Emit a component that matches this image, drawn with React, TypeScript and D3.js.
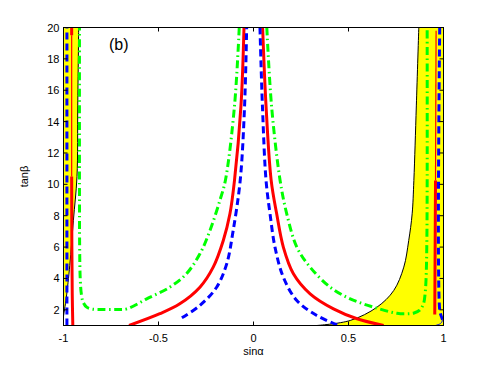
import React, { useEffect, useRef } from 'react';
import * as d3 from 'd3';

// points are [sinα, tanβ]
const blackLeft = [[-1.0, 1.6], [-0.994, 2.06], [-0.985, 2.8], [-0.967, 4.83], [-0.948, 7.7], [-0.929, 10.5], [-0.925, 15], [-0.92, 20]];
const blackRight = [[0.333, 1.0], [0.509, 1.32], [0.65, 2.17], [0.738, 3.23], [0.791, 4.72], [0.817, 6.42], [0.835, 8.12], [0.844, 10.25], [0.857, 15], [0.87, 20]];

const greenLeft = [[-0.075, 20], [-0.1, 15], [-0.148, 10.25], [-0.177, 8.97], [-0.229, 7.06], [-0.282, 5.57], [-0.353, 4.3], [-0.441, 3.44], [-0.562, 2.7], [-0.667, 2.06], [-0.72, 2.02], [-0.8, 2.02], [-0.851, 2.05], [-0.878, 2.17], [-0.897, 2.5], [-0.906, 3.0], [-0.912, 4.0], [-0.915, 6], [-0.916, 10], [-0.916, 20]];
const greenRight = [[0.07, 20], [0.095, 15], [0.14, 10.25], [0.175, 8.12], [0.228, 6.0], [0.298, 4.72], [0.404, 3.44], [0.509, 2.7], [0.632, 2.17], [0.755, 1.78], [0.808, 1.75], [0.845, 1.8], [0.875, 1.98], [0.895, 2.4], [0.903, 3.0], [0.908, 3.9], [0.912, 6], [0.914, 10], [0.914, 20]];

const redCenterLeft = [[-0.655, 1.0], [-0.493, 1.75], [-0.388, 2.38], [-0.282, 3.44], [-0.212, 4.72], [-0.159, 6.42], [-0.124, 8.12], [-0.1, 10.25], [-0.066, 15], [-0.05, 20]];
const redCenterRight = [[0.048, 20], [0.066, 15], [0.093, 10.25], [0.122, 8.12], [0.157, 6.0], [0.21, 4.3], [0.298, 3.02], [0.421, 2.06], [0.545, 1.43], [0.685, 1.0]];
const redSideLeftThick = [[-0.951, 1.0], [-0.954, 3], [-0.956, 6], [-0.957, 10.5]];
const redSideLeftThin = [[-0.957, 10.5], [-0.957, 19.5]];
const redSideLeftStub = [[-0.957, 19.5], [-0.957, 20]];
const redSideRightThick = [[0.954, 1.7], [0.956, 6], [0.958, 10.25]];
const redSideRightThin = [[0.958, 10.25], [0.961, 19.8]];

const blueCenterLeft = [[-0.377, 1.49], [-0.282, 2.28], [-0.194, 3.44], [-0.141, 4.93], [-0.107, 7.06], [-0.07, 10.25], [-0.047, 15], [-0.036, 20]];
const blueCenterRight = [[0.034, 20], [0.047, 15], [0.066, 10.25], [0.087, 8.12], [0.113, 6.0], [0.157, 4.08], [0.228, 2.59], [0.333, 1.64], [0.448, 1.0]];
const blueSideLeft = [[-0.982, 1.0], [-0.982, 20]];
const blueSideRight = [[0.98, 20], [0.98, 2.0], [0.988, 1.6], [0.995, 1.38]];
const blueCornerRight = [[0.995, 1.38], [0.99, 1.2], [0.978, 1.08], [0.957, 1.0]];

const xTicks = [-1, -0.5, 0, 0.5, 1];
const xTickLabels = ['-1', '-0.5', '0', '0.5', '1'];
const yTicks = [2, 4, 6, 8, 10, 12, 14, 16, 18, 20];

const FONT = 'Liberation Sans, Arial, Helvetica, sans-serif';

function App() {
  return (
    <div>
      <ConstraintPlot />
    </div>
  );
}

function ConstraintPlot() {
  const ref = useRef(null);

  useEffect(() => {
    if (!ref.current) return;
    const width = 489;
    const height = 368;
    const left = 63.5, right = 443.5, top = 27.5, bottom = 325.5;

    d3.select(ref.current).selectAll('*').remove();
    const svg = d3.select(ref.current)
      .attr('width', width)
      .attr('height', height);

    const x = d3.scaleLinear().domain([-1, 1]).range([left, right]);
    const y = d3.scaleLinear().domain([1, 20]).range([bottom, top]);

    svg.append('rect').attr('width', width).attr('height', height).attr('fill', 'white');

    svg.append('clipPath').attr('id', 'plotclip')
      .append('rect')
      .attr('x', left).attr('y', top)
      .attr('width', right - left).attr('height', bottom - top);

    const g = svg.append('g').attr('clip-path', 'url(#plotclip)');

    const line = d3.line().x(d => x(d[0])).y(d => y(d[1])).curve(d3.curveCatmullRom.alpha(0.5));
    const straight = d3.line().x(d => x(d[0])).y(d => y(d[1]));

    // yellow allowed regions
    g.append('path').attr('d', straight([...blackLeft, [-1, 20]]) + 'Z').attr('fill', '#ffff00');
    g.append('path').attr('d', line(blackRight) + `L${x(1)},${y(20)}L${x(1)},${y(1)}Z`).attr('fill', '#ffff00');

    // black boundaries
    [blackLeft, blackRight].forEach(d => {
      g.append('path').attr('d', line(d)).attr('fill', 'none').attr('stroke', 'black').attr('stroke-width', 1);
    });

    // green dash-dot
    [greenLeft, greenRight].forEach(d => {
      g.append('path').attr('d', line(d)).attr('fill', 'none')
        .attr('stroke', '#00ff00').attr('stroke-width', 3)
        .attr('stroke-dasharray', '8,3.5,1.5,3.5');
    });

    // red solid
    [redCenterLeft, redCenterRight, redSideLeftThick, redSideLeftStub, redSideRightThick].forEach(d => {
      g.append('path').attr('d', line(d)).attr('fill', 'none')
        .attr('stroke', '#ff0000').attr('stroke-width', 3);
    });
    [redSideLeftThin, redSideRightThin].forEach(d => {
      g.append('path').attr('d', line(d)).attr('fill', 'none')
        .attr('stroke', '#ff0000').attr('stroke-width', 1.2);
    });

    // blue dashed
    [blueCenterLeft, blueCenterRight, blueSideLeft, blueSideRight].forEach(d => {
      g.append('path').attr('d', line(d)).attr('fill', 'none')
        .attr('stroke', '#0000ff').attr('stroke-width', 3)
        .attr('stroke-dasharray', '7,4');
    });
    g.append('path').attr('d', line(blueCornerRight)).attr('fill', 'none')
      .attr('stroke', '#0000ff').attr('stroke-width', 1);

    // box
    svg.append('rect')
      .attr('x', left).attr('y', top)
      .attr('width', right - left).attr('height', bottom - top)
      .attr('fill', 'none').attr('stroke', 'black').attr('stroke-width', 1);

    const tickLen = 4;
    xTicks.forEach((t, i) => {
      svg.append('line').attr('x1', x(t)).attr('x2', x(t)).attr('y1', bottom).attr('y2', bottom - tickLen).attr('stroke', 'black');
      svg.append('line').attr('x1', x(t)).attr('x2', x(t)).attr('y1', top).attr('y2', top + tickLen).attr('stroke', 'black');
      svg.append('text').attr('x', x(t)).attr('y', bottom + 16)
        .attr('text-anchor', 'middle').attr('font-family', FONT).attr('font-size', 11)
        .text(xTickLabels[i]);
    });
    yTicks.forEach(t => {
      svg.append('line').attr('x1', left).attr('x2', left + tickLen).attr('y1', y(t)).attr('y2', y(t)).attr('stroke', 'black');
      svg.append('line').attr('x1', right).attr('x2', right - tickLen).attr('y1', y(t)).attr('y2', y(t)).attr('stroke', 'black');
      svg.append('text').attr('x', left - 4).attr('y', y(t) + 4)
        .attr('text-anchor', 'end').attr('font-family', FONT).attr('font-size', 11)
        .text(String(t));
    });

    svg.append('text').attr('x', (left + right) / 2).attr('y', 355)
      .attr('text-anchor', 'middle').attr('font-family', FONT).attr('font-size', 11)
      .text('sinα');
    svg.append('text')
      .attr('transform', `translate(28,${(top + bottom) / 2}) rotate(-90)`)
      .attr('text-anchor', 'middle').attr('font-family', FONT).attr('font-size', 11)
      .text('tanβ');

    svg.append('text').attr('x', 109).attr('y', 50)
      .attr('font-family', FONT).attr('font-size', 16)
      .text('(b)');
  }, []);

  return (
    <svg ref={ref} style={{ position: 'absolute', left: 0, top: 0 }} />
  );
}

export default App;
